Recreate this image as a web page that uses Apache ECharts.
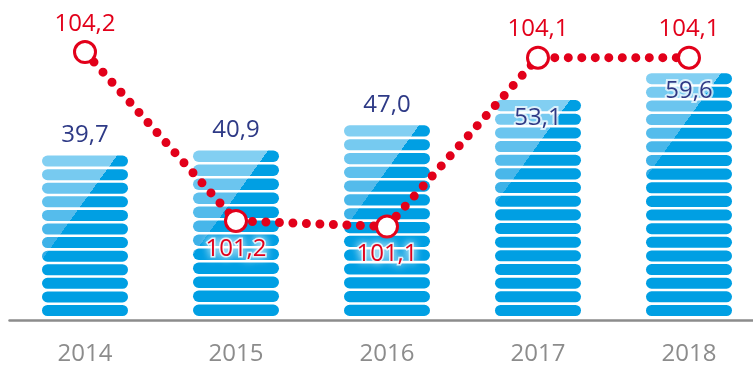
<!DOCTYPE html>
<html><head><meta charset="utf-8">
<script src="https://cdn.jsdelivr.net/npm/echarts@6/dist/echarts.min.js"></script>
<style>html,body{margin:0;padding:0;background:#fff}#c{width:753px;height:365px}</style>
</head><body><div id="c"></div>
<script>
// ---- data ----
const categories = ['2014', '2015', '2016', '2017', '2018'];
const barValues = [39.7, 40.9, 47.0, 53.1, 59.6];
const lineValues = [104.2, 101.2, 101.1, 104.1, 104.1];

// ---- style config ----
const lineLabelPlacement = ['top', 'bottom', 'bottom', 'top', 'top'];
const barLabelInside = [false, false, false, true, true];
const RED = '#e2001a';
const NAVY = '#2e3a86';
const GRAY = '#8c8c8c';
const DARK = '#009fe3';
const FONT = '"Open Sans", "Noto Sans", sans-serif';

const fmt = v => v.toFixed(1).replace('.', ',');
function lerpColor(a, b, t) {
  const r = a.map((x, i) => Math.round(x + (b[i] - x) * t));
  return 'rgb(' + r.join(',') + ')';
}
const LIGHT_TOP = [130, 207, 242];
const LIGHT_BOT = [38, 168, 229];

function renderStack(params, api) {
  const idx = params.dataIndex;
  const v = api.value(1);
  const topPt = api.coord([api.value(0), v]);
  const basePt = api.coord([api.value(0), 0]);
  const bw = 86, gap = 2.6, pitchTarget = 13.55, baseGap = 4;
  const cx = topPt[0];
  const left = cx - bw / 2, right = cx + bw / 2;
  const top = topPt[1];
  const bottom = basePt[1] - baseGap;
  const H = bottom - top;
  const n = Math.max(1, Math.round((H + gap) / pitchTarget));
  const pitch = (H + gap) / n;
  const h = pitch - gap;
  const slope = 0.72;
  const p0x = right - 11, p0y = top;
  let nx = 1, ny = slope;
  const len = Math.hypot(nx, ny); nx /= len; ny /= len;
  const L = 200;
  const children = [];
  for (let i = 0; i < n; i++) {
    const y = top + i * pitch;
    const t = Math.min(1, (y - top) / 110);
    const light = lerpColor(LIGHT_TOP, LIGHT_BOT, t);
    children.push({
      type: 'rect',
      shape: { x: left, y: y, width: bw, height: h, r: h / 2 },
      style: {
        fill: {
          type: 'linear', global: true,
          x: p0x - L * nx, y: p0y - L * ny, x2: p0x + L * nx, y2: p0y + L * ny,
          colorStops: [
            { offset: 0, color: light }, { offset: 0.5, color: light },
            { offset: 0.5, color: DARK }, { offset: 1, color: DARK }
          ]
        }
      }
    });
  }
  const inside = barLabelInside[idx];
  const txtStyle = {
    text: fmt(v), fill: NAVY, font: '24px ' + FONT,
    align: 'center', verticalAlign: 'middle'
  };
  if (inside) {
    children.push({ type: 'text', x: cx, y: top + 18,
      style: Object.assign({}, txtStyle, { fill: '#fff', shadowColor: '#fff', shadowBlur: 10, stroke: 'rgba(255,255,255,0.7)', lineWidth: 4 }) });
  }
  children.push({ type: 'text', x: cx, y: inside ? top + 18 : top - 20, style: txtStyle });
  return { type: 'group', children: children };
}

const chart = echarts.init(document.getElementById('c'), null, { renderer: 'canvas' });
chart.setOption({
  animation: false,
  backgroundColor: '#fff',
  grid: { left: 9.5, top: 0, width: 755, height: 320, outerBoundsMode: 'none', containLabel: false },
  xAxis: {
    type: 'category', data: categories,
    axisLine: { lineStyle: { color: GRAY, width: 2.5 } },
    axisTick: { show: false },
    axisLabel: { color: GRAY, fontSize: 24, fontFamily: FONT, margin: 22 },
    splitLine: { show: false }
  },
  yAxis: [
    { type: 'value', min: 0, max: 77.26, show: false, splitLine: { show: false } },
    { type: 'value', min: 99.44, max: 105.124, show: false, splitLine: { show: false } }
  ],
  series: [
    {
      type: 'custom', z: 2,
      data: barValues.map((v, i) => [i, v]),
      encode: { x: 0, y: 1 },
      renderItem: renderStack
    },
    {
      type: 'line', yAxisIndex: 1, z: 5,
      data: lineValues.map((v, i) => ({
        value: v,
        label: { position: lineLabelPlacement[i] }
      })),
      symbol: 'circle', symbolSize: 21,
      itemStyle: { color: '#fff', borderColor: RED, borderWidth: 3 },
      lineStyle: { color: RED, width: 9, type: [0, 13.5], cap: 'round' },
      label: {
        show: true, distance: 4, color: RED, fontSize: 24, fontFamily: FONT,
        formatter: p => fmt(p.value),
        textShadowColor: '#fff', textShadowBlur: 8,
        textBorderColor: 'rgba(255,255,255,0.8)', textBorderWidth: 3
      },
      emphasis: { disabled: true }
    }
  ]
});
</script>
</body></html>
